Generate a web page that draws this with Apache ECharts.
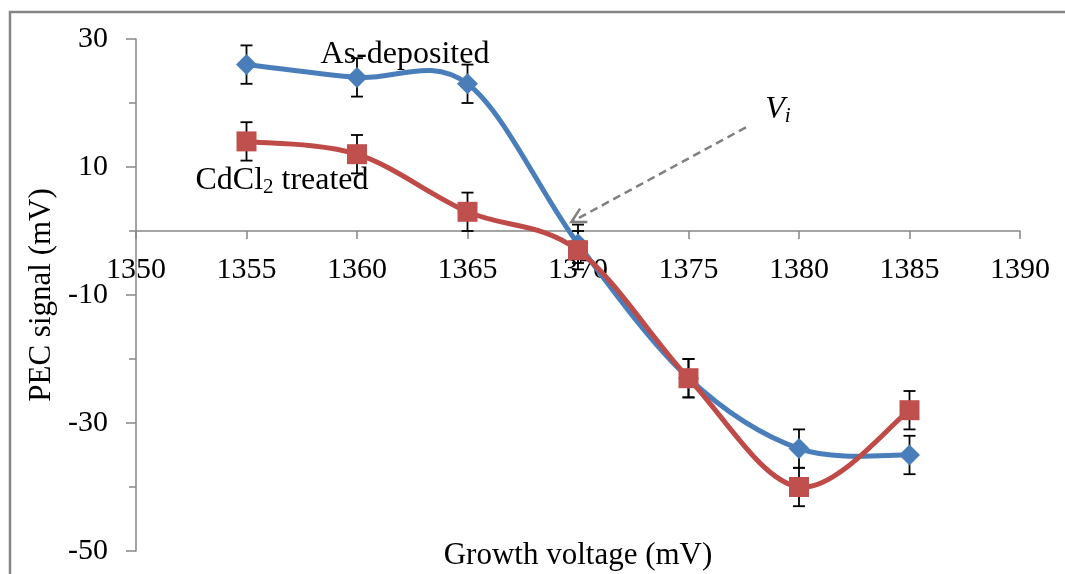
<!DOCTYPE html>
<html><head><meta charset="utf-8">
<script src="https://cdn.jsdelivr.net/npm/echarts@6/dist/echarts.min.js"></script>
<style>html,body{margin:0;padding:0;background:#fff}#c{width:1065px;height:574px}</style>
</head><body><div id="c"></div>
<script>
const voltages = [1355, 1360, 1365, 1370, 1375, 1380, 1385];
const asDeposited = [26, 24, 23, -2, -23, -34, -35];
const asDepErr = [3, 3, 3, 3, 3, 3, 3];
const cdcl2 = [14, 12, 3, -3, -23, -40, -28];
const cdcl2Err = [3, 3, 3, 3, 3, 3, 3];
const xTicks = [1350, 1355, 1360, 1365, 1370, 1375, 1380, 1385, 1390];
const yTicks = [-50, -30, -10, 10, 30];

const FONT = '"Liberation Serif", "Times New Roman", serif';
const axisGray = '#868686';
const GRID = { left: 136, right: 45, top: 39, bottom: 23 };
const Y_MIN = -50, Y_MAX = 30;
const plotH = 574 - GRID.top - GRID.bottom;
const zeroOffset = -plotH * (0 - Y_MIN) / (Y_MAX - Y_MIN);

function errSeries(vals, errs, z) {
  return {
    type: 'custom', z: z, silent: true,
    data: voltages.map((v, i) => [v, vals[i] - errs[i], vals[i] + errs[i]]),
    renderItem: function (params, api) {
      const lo = api.coord([api.value(0), api.value(1)]);
      const hi = api.coord([api.value(0), api.value(2)]);
      const w = 6;
      const st = { stroke: '#000', lineWidth: 1.8 };
      return { type: 'group', children: [
        { type: 'line', shape: { x1: lo[0], y1: lo[1], x2: hi[0], y2: hi[1] }, style: st },
        { type: 'line', shape: { x1: lo[0] - w, y1: lo[1], x2: lo[0] + w, y2: lo[1] }, style: st },
        { type: 'line', shape: { x1: hi[0] - w, y1: hi[1], x2: hi[0] + w, y2: hi[1] }, style: st }
      ]};
    }
  };
}

// Excel-like smoothed line (Catmull-Rom style Bezier through the data points)
function curveSeries(vals, color, z) {
  return {
    type: 'custom', z: z, silent: true,
    data: voltages.map((v, i) => [v, vals[i]]),
    renderItem: function (params, api) {
      if (params.dataIndex !== 0) return null;
      const P = voltages.map((v, i) => api.coord([v, vals[i]]));
      const n = P.length;
      const children = [];
      for (let i = 0; i < n - 1; i++) {
        const p0 = P[Math.max(i - 1, 0)], p1 = P[i], p2 = P[i + 1], p3 = P[Math.min(i + 2, n - 1)];
        const c1 = [p1[0] + (p2[0] - p0[0]) / 6, p1[1] + (p2[1] - p0[1]) / 6];
        const c2 = [p2[0] - (p3[0] - p1[0]) / 6, p2[1] - (p3[1] - p1[1]) / 6];
        children.push({ type: 'bezierCurve',
          shape: { x1: p1[0], y1: p1[1], x2: p2[0], y2: p2[1], cpx1: c1[0], cpy1: c1[1], cpx2: c2[0], cpy2: c2[1] },
          style: { stroke: color, lineWidth: 5, fill: 'none', lineCap: 'round' } });
      }
      return { type: 'group', children: children };
    }
  };
}

const chart = echarts.init(document.getElementById('c'));
chart.setOption({
  animation: false,
  backgroundColor: '#fff',
  grid: Object.assign({ containLabel: false, outerBoundsMode: 'none' }, GRID),
  xAxis: {
    type: 'value', min: 1350, max: 1390, interval: 5,
    offset: zeroOffset,
    axisLine: { onZero: false, lineStyle: { color: axisGray, width: 1.5 } },
    axisTick: { show: true, inside: false, length: 8, lineStyle: { color: axisGray, width: 1.5 } },
    axisLabel: { margin: 24, color: '#000', fontFamily: FONT, fontSize: 30,
      formatter: v => xTicks.includes(v) ? String(v) : '' },
    splitLine: { show: false }
  },
  yAxis: {
    type: 'value', min: Y_MIN, max: Y_MAX, interval: 20,
    axisLine: { show: true, lineStyle: { color: axisGray, width: 1.5 } },
    axisTick: { show: true, length: 10, lineStyle: { color: axisGray, width: 1.5 } },
    minorTick: { show: true, splitNumber: 2, length: 7, lineStyle: { color: axisGray, width: 1.5 } },
    axisLabel: { margin: 28, color: '#000', fontFamily: FONT, fontSize: 30,
      formatter: v => yTicks.includes(v) ? String(v) : '' },
    splitLine: { show: false },
    name: 'PEC signal (mV)', nameLocation: 'middle', nameGap: 78, nameRotate: 90,
    nameTextStyle: { color: '#000', fontFamily: FONT, fontSize: 31 }
  },
  series: [
    curveSeries(asDeposited, '#4A7EBB', 2),
    curveSeries(cdcl2, '#BE4B48', 3),
    errSeries(asDeposited, asDepErr, 4),
    errSeries(cdcl2, cdcl2Err, 4),
    {
      name: 'As-deposited', type: 'scatter', z: 5,
      data: voltages.map((v, i) => [v, asDeposited[i]]),
      symbol: 'diamond', symbolSize: 21,
      itemStyle: { color: '#4A7EBB', opacity: 1 }
    },
    {
      name: 'CdCl2 treated', type: 'scatter', z: 6,
      data: voltages.map((v, i) => [v, cdcl2[i]]),
      symbol: 'rect', symbolSize: 20,
      itemStyle: { color: '#C0504D', opacity: 1 }
    }
  ]
});

const p0 = chart.convertToPixel({ gridIndex: 0 }, [1377.6, 16.2]);
const p1 = chart.convertToPixel({ gridIndex: 0 }, [1369.7, 1.4]);
const ang = Math.atan2(p1[1] - p0[1], p1[0] - p0[0]);
const ah = 16, aw = 0.5;
const a1 = [p1[0] - ah * Math.cos(ang - aw), p1[1] - ah * Math.sin(ang - aw)];
const a2 = [p1[0] - ah * Math.cos(ang + aw), p1[1] - ah * Math.sin(ang + aw)];

chart.setOption({
  graphic: [
    { type: 'rect', shape: { x: 10, y: 12, width: 1080, height: 600 }, style: { fill: 'none', stroke: '#868686', lineWidth: 2.5 }, z: -1 },
    { type: 'line', shape: { x1: p0[0], y1: p0[1], x2: p1[0], y2: p1[1] },
      style: { stroke: '#808080', lineWidth: 2.5, lineDash: [8, 5] }, z: 10 },
    { type: 'polyline', shape: { points: [a1, p1, a2] },
      style: { stroke: '#808080', lineWidth: 2.5, fill: 'none' }, z: 10 },
    { type: 'text', z: 10, style: { text: 'Growth voltage (mV)', x: 578, y: 556, align: 'center', verticalAlign: 'middle', font: '31px ' + FONT, fill: '#000' } },
    { type: 'text', z: 10, style: { text: 'As-deposited', x: 405, y: 55, align: 'center', verticalAlign: 'middle', font: '32px ' + FONT, fill: '#000' } },
    { type: 'text', z: 10, style: {
      text: '{a|CdCl}{s|2}{a| treated}', x: 282, y: 181, align: 'center', verticalAlign: 'middle',
      rich: { a: { fontFamily: FONT, fontSize: 32, color: '#000' },
              s: { fontFamily: FONT, fontSize: 21, color: '#000', padding: [12, 0, 0, 0] } } } },
    { type: 'text', z: 10, style: {
      text: '{a|V}{s|i}', x: 778, y: 110, align: 'center', verticalAlign: 'middle',
      rich: { a: { fontFamily: FONT, fontSize: 32, fontStyle: 'italic', color: '#000' },
              s: { fontFamily: FONT, fontSize: 21, fontStyle: 'italic', color: '#000', padding: [12, 0, 0, 0] } } } }
  ]
});
</script></body></html>
